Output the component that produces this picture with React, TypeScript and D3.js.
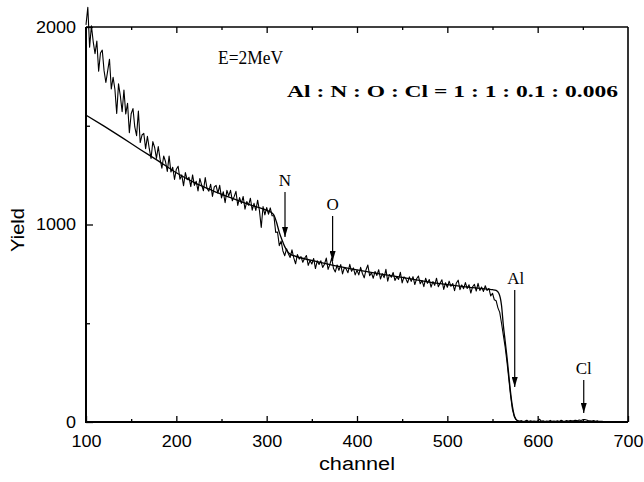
import React, { useRef, useEffect } from "react";
import { select, scaleLinear, axisBottom, axisLeft, axisTop, line, curveMonotoneX } from "d3";

// axis ticks
const xTicks = [100, 200, 300, 400, 500, 600, 700];
const xMinorTicks = [150, 250, 350, 450, 550, 650];
const yTicks = [0, 1000, 2000];
const yMinorTicks = [500, 1500];

// measured spectrum, one value every 2 channels starting at channel 100
const spectrumStart = 100;
const spectrumStep = 2;
const spectrumCounts = [
  2011, 2100, 1898, 2006, 1925, 1865, 1929, 1776, 1868, 1883, // 100
  1779, 1719, 1778, 1837, 1686, 1745, 1685, 1562, 1712, 1652, // 120
  1571, 1681, 1560, 1614, 1465, 1561, 1587, 1494, 1450, 1574, // 140
  1415, 1453, 1461, 1384, 1447, 1385, 1335, 1420, 1390, 1335, // 160
  1395, 1331, 1285, 1347, 1319, 1269, 1346, 1266, 1290, 1228, // 180
  1280, 1295, 1229, 1251, 1196, 1263, 1227, 1239, 1192, 1251, // 200
  1198, 1219, 1170, 1233, 1201, 1171, 1238, 1182, 1169, 1204, // 220
  1142, 1190, 1198, 1159, 1198, 1135, 1166, 1110, 1173, 1145, // 240
  1173, 1120, 1141, 1168, 1097, 1136, 1107, 1142, 1078, 1116, // 260
  1098, 1133, 1073, 1107, 1071, 1123, 1071, 985, 1091, 1049,  // 280
  1086, 1052, 1084, 1044, 1044, 960, 962, 893, 916, 866,      // 300
  842, 877, 852, 833, 872, 831, 801, 848, 825, 837,           // 320
  809, 829, 843, 793, 818, 800, 828, 777, 816, 798,           // 340
  816, 783, 799, 830, 773, 798, 831, 777, 760, 795,           // 360
  768, 797, 750, 782, 775, 756, 798, 763, 780, 745,           // 380
  769, 745, 783, 752, 730, 771, 795, 741, 755, 728,           // 400
  762, 742, 771, 724, 751, 731, 773, 713, 747, 733,           // 420
  757, 717, 736, 722, 758, 704, 735, 726, 705, 735,           // 440
  712, 736, 696, 725, 739, 700, 716, 685, 728, 702,           // 460
  721, 683, 711, 692, 728, 685, 703, 720, 671, 705,           // 480
  682, 713, 687, 701, 665, 704, 718, 670, 694, 675,           // 500
  706, 676, 695, 653, 685, 697, 663, 702, 666, 683,           // 520
  661, 690, 666, 676, 638, 652, 619, 614, 578, 555,           // 540
  500, 440, 380, 305, 220, 135, 65, 28, 12, 6,                // 560
  4, 7, 2, 5, 9, 3, 6, 4, 5, 3,                               // 580
  5, 14, 4, 6, 2, 5, 4, 8, 3, 5,                              // 600
  4, 6, 3, 9, 5, 4, 7, 5, 8, 6,                               // 620
  7, 9, 6, 10, 8, 11, 13, 10, 7, 6,                           // 640
  5, 7, 4, 6, 3, 4, 3,                                        // 660
];

// simulated fit
const fitChannels = [
  100, 120, 140, 160, 180, 200, 220, 240, 260, 280, 300,
  305, 308, 311, 314, 317, 320, 323, 326, 330, 350, 375, 400, 425, 450, 475, 500,
  525, 545, 550, 554, 557, 560, 562, 564, 566, 568, 570, 572, 574, 576, 578, 582, 620, 672,
];
const fitCounts = [
  1554, 1498, 1440, 1380, 1322, 1262, 1212, 1172, 1136, 1102, 1072,
  1062, 1048, 1010, 960, 922, 888, 864, 850, 842, 818, 792, 770, 750, 732, 712, 696,
  682, 672, 670, 666, 652, 590, 490, 410, 330, 240, 150, 80, 35, 14, 6, 2, 2, 2,
];

// element markers
const markerLabels = ["N", "O", "Al", "Cl"];
const markerChannels = [320.3, 373, 574.6, 651];
const markerTops = [1165, 1043, 668, 213];
const markerTips = [937, 815, 177, 46];

const sans = "'Liberation Sans', Arial, sans-serif";
const serif = "'Liberation Serif', 'Times New Roman', serif";

function SpectrumChart() {
  const svgRef = useRef<SVGSVGElement>(null);

  useEffect(() => {
    const svg = select(svgRef.current);
    svg.selectAll("*").remove();

    const xScale = scaleLinear().domain([100, 700]).range([86, 628]);
    const yScale = scaleLinear().domain([0, 2000]).range([422, 27]);

    svg.append("defs")
      .append("marker")
      .attr("id", "arrowHead")
      .attr("viewBox", "0 0 10 6")
      .attr("refX", 10)
      .attr("refY", 3)
      .attr("markerUnits", "userSpaceOnUse")
      .attr("markerWidth", 10)
      .attr("markerHeight", 6)
      .attr("orient", "auto")
      .append("path")
      .attr("d", "M0,0L10,3L0,6Z")
      .attr("fill", "#000");

    // minor ticks first, majors on top
    const minorBottom = axisBottom(xScale).tickValues(xMinorTicks).tickSize(-3).tickFormat(() => "").tickSizeOuter(0);
    const minorTop = axisTop(xScale).tickValues(xMinorTicks).tickSize(-3).tickFormat(() => "").tickSizeOuter(0);
    const minorLeft = axisLeft(yScale).tickValues(yMinorTicks).tickSize(-4).tickFormat(() => "").tickSizeOuter(0);

    svg.append("g").attr("transform", "translate(0,422)").call(minorBottom);
    svg.append("g").attr("transform", "translate(0,27)").call(minorTop);
    svg.append("g").attr("transform", "translate(86,0)").call(minorLeft);

    const xAxis = axisBottom(xScale).tickValues(xTicks).tickSize(-6).tickSizeOuter(0).tickPadding(14)
      .tickFormat((d) => String(d));
    const xg = svg.append("g").attr("class", "x-axis").attr("transform", "translate(0,422)").call(xAxis);
    xg.selectAll("text").attr("textLength", 30).attr("lengthAdjust", "spacingAndGlyphs");

    const topAxis = axisTop(xScale).tickValues(xTicks.slice(1, -1)).tickSize(-6).tickSizeOuter(0).tickFormat(() => "");
    svg.append("g").attr("transform", "translate(0,27)").call(topAxis);

    const yAxis = axisLeft(yScale).tickValues(yTicks).tickSize(-7).tickSizeOuter(0).tickPadding(10)
      .tickFormat((d) => String(d));
    const yg = svg.append("g").attr("class", "y-axis").attr("transform", "translate(86,0)").call(yAxis);
    yg.selectAll("text").each(function () {
      const t = select(this);
      const n = t.text().length;
      t.attr("textLength", n * 10).attr("lengthAdjust", "spacingAndGlyphs");
    });

    svg.selectAll(".tick text")
      .style("font-family", sans)
      .style("font-size", "16px")
      .attr("fill", "#000");
    svg.selectAll(".tick line").attr("stroke", "#000").attr("stroke-width", 1.3);
    svg.selectAll(".domain").remove();

    // frame
    svg.append("line").attr("x1", 86).attr("x2", 628).attr("y1", 27).attr("y2", 27).attr("stroke", "#000").attr("stroke-width", 1.6);
    svg.append("line").attr("x1", 628).attr("x2", 628).attr("y1", 27).attr("y2", 422).attr("stroke", "#000").attr("stroke-width", 1.6);
    svg.append("line").attr("x1", 86).attr("x2", 86).attr("y1", 27).attr("y2", 423).attr("stroke", "#000").attr("stroke-width", 2);
    svg.append("line").attr("x1", 85).attr("x2", 628).attr("y1", 422).attr("y2", 422).attr("stroke", "#000").attr("stroke-width", 2);

    const spectrumLine = line<number>()
      .x((d, i) => xScale(spectrumStart + i * spectrumStep))
      .y((d) => yScale(d));

    svg.append("path")
      .datum(spectrumCounts)
      .attr("d", spectrumLine)
      .attr("fill", "none")
      .attr("stroke", "#000")
      .attr("stroke-width", 1.1)
      .attr("stroke-linejoin", "round");

    const fitLine = line<number>()
      .x((d, i) => xScale(fitChannels[i]))
      .y((d) => yScale(d))
      .curve(curveMonotoneX);

    svg.append("path")
      .datum(fitCounts)
      .attr("d", fitLine)
      .attr("fill", "none")
      .attr("stroke", "#000")
      .attr("stroke-width", 1.3);

    markerLabels.forEach((label, i) => {
      const mx = xScale(markerChannels[i]);
      svg.append("line")
        .attr("x1", mx).attr("x2", mx)
        .attr("y1", yScale(markerTops[i]))
        .attr("y2", yScale(markerTips[i]))
        .attr("stroke", "#000")
        .attr("stroke-width", 1.2)
        .attr("marker-end", "url(#arrowHead)");
      svg.append("text")
        .attr("x", mx + (label === "Al" ? 1 : 0))
        .attr("y", yScale(markerTops[i]) - 6)
        .attr("text-anchor", "middle")
        .style("font-family", serif)
        .style("font-size", "17px")
        .text(label);
    });

    svg.append("text")
      .attr("x", 218).attr("y", 64)
      .attr("textLength", 65).attr("lengthAdjust", "spacingAndGlyphs")
      .style("font-family", serif).style("font-size", "19px")
      .text("E=2MeV");

    svg.append("text")
      .attr("x", 287).attr("y", 97)
      .attr("textLength", 331).attr("lengthAdjust", "spacingAndGlyphs")
      .style("font-family", serif).style("font-size", "17px").style("font-weight", "bold")
      .text("Al : N : O : Cl = 1 : 1 : 0.1 : 0.006");

    svg.append("text")
      .attr("x", 357).attr("y", 470)
      .attr("text-anchor", "middle")
      .attr("textLength", 76).attr("lengthAdjust", "spacingAndGlyphs")
      .style("font-family", sans).style("font-size", "18px")
      .text("channel");

    svg.append("text")
      .attr("transform", "translate(24,230) rotate(-90)")
      .attr("text-anchor", "middle")
      .attr("textLength", 44).attr("lengthAdjust", "spacingAndGlyphs")
      .style("font-family", sans).style("font-size", "18px")
      .text("Yield");
  }, []);

  return (
    <svg
      ref={svgRef}
      width={644}
      height={482}
      style={{ position: "absolute", left: 0, top: 0, background: "#fff" }}
    />
  );
}

export default function App() {
  return <SpectrumChart />;
}
